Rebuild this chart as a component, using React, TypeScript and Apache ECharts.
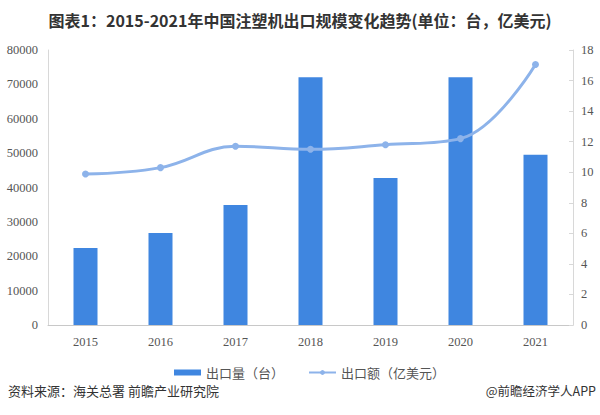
import React, { useEffect, useRef } from "react";
import * as echarts from "echarts";

const years = ["2015", "2016", "2017", "2018", "2019", "2020", "2021"];
const exportQty = [22400, 26800, 34900, 72100, 42800, 72100, 49500];
const exportValue = [9.88, 10.3, 11.7, 11.5, 11.8, 12.2, 17.05];
const leftTicks = { min: 0, max: 80000, interval: 10000 };
const rightTicks = { min: 0, max: 18, interval: 2 };

export default function App() {
  const ref = useRef<HTMLDivElement>(null);
  useEffect(() => {
    const chart = echarts.init(ref.current!, null, { renderer: "svg" });
    const serif = "'Liberation Serif', 'DejaVu Serif', serif";
    const cjk = "'Noto Sans CJK SC', sans-serif";
    chart.setOption({
      animation: false,
      backgroundColor: "#ffffff",
      title: {
        text: "图表1：2015-2021年中国注塑机出口规模变化趋势(单位：台，亿美元)",
        left: "center",
        top: 7,
        textStyle: { fontSize: 16, fontWeight: "bold", color: "#333", fontFamily: cjk },
      },
      grid: { left: 48, right: 27, top: 50, bottom: 90, containLabel: false },
      legend: {
        top: 361,
        left: 169,
        itemGap: 24,
        itemWidth: 27,
        itemHeight: 6,
        textStyle: { fontSize: 13, color: "#555", fontFamily: cjk },
        data: [
          { name: "出口量（台）", icon: "rect" },
          { name: "出口额（亿美元）" },
        ],
      },
      xAxis: {
        type: "category",
        data: years,
        axisLine: { lineStyle: { color: "#c8c8c8" } },
        axisTick: { show: false },
        axisLabel: { color: "#555", fontSize: 12.5, fontFamily: serif, margin: 10 },
      },
      yAxis: [
        {
          type: "value",
          ...leftTicks,
          axisLine: { show: true, lineStyle: { color: "#d8d8d8" } },
          axisTick: { show: false },
          splitLine: { show: false },
          axisLabel: {
            color: "#555",
            fontSize: 12.5,
            fontFamily: serif,
            margin: 10,
            formatter: (v: number) => String(v),
          },
        },
        {
          type: "value",
          ...rightTicks,
          position: "right",
          axisLine: { show: true, lineStyle: { color: "#d8d8d8" } },
          axisTick: { show: true, inside: true, length: 4, lineStyle: { color: "#d8d8d8" } },
          splitLine: { show: false },
          axisLabel: { color: "#555", fontSize: 12.5, fontFamily: serif, margin: 8 },
        },
      ],
      series: [
        {
          name: "出口量（台）",
          type: "bar",
          data: exportQty,
          barWidth: "32%",
          itemStyle: { color: "#3f86e0" },
        },
        {
          name: "出口额（亿美元）",
          type: "line",
          yAxisIndex: 1,
          data: exportValue,
          smooth: 0.4,
          symbol: "circle",
          symbolSize: 7,
          lineStyle: { color: "#8db3ea", width: 3 },
          itemStyle: { color: "#8db3ea" },
        },
      ],
      graphic: [
        {
          type: "text",
          left: 8,
          top: 384,
          style: { text: "资料来源：海关总署 前瞻产业研究院", fontSize: 13, fill: "#333", fontFamily: cjk },
        },
        {
          type: "text",
          right: 4,
          top: 384,
          style: { text: "@前瞻经济学人APP", fontSize: 12.5, fill: "#333", fontFamily: cjk },
        },
      ],
    });
    return () => chart.dispose();
  }, []);
  return <div ref={ref} style={{ width: 600, height: 415, position: "absolute", left: 0, top: 0 }} />;
}
